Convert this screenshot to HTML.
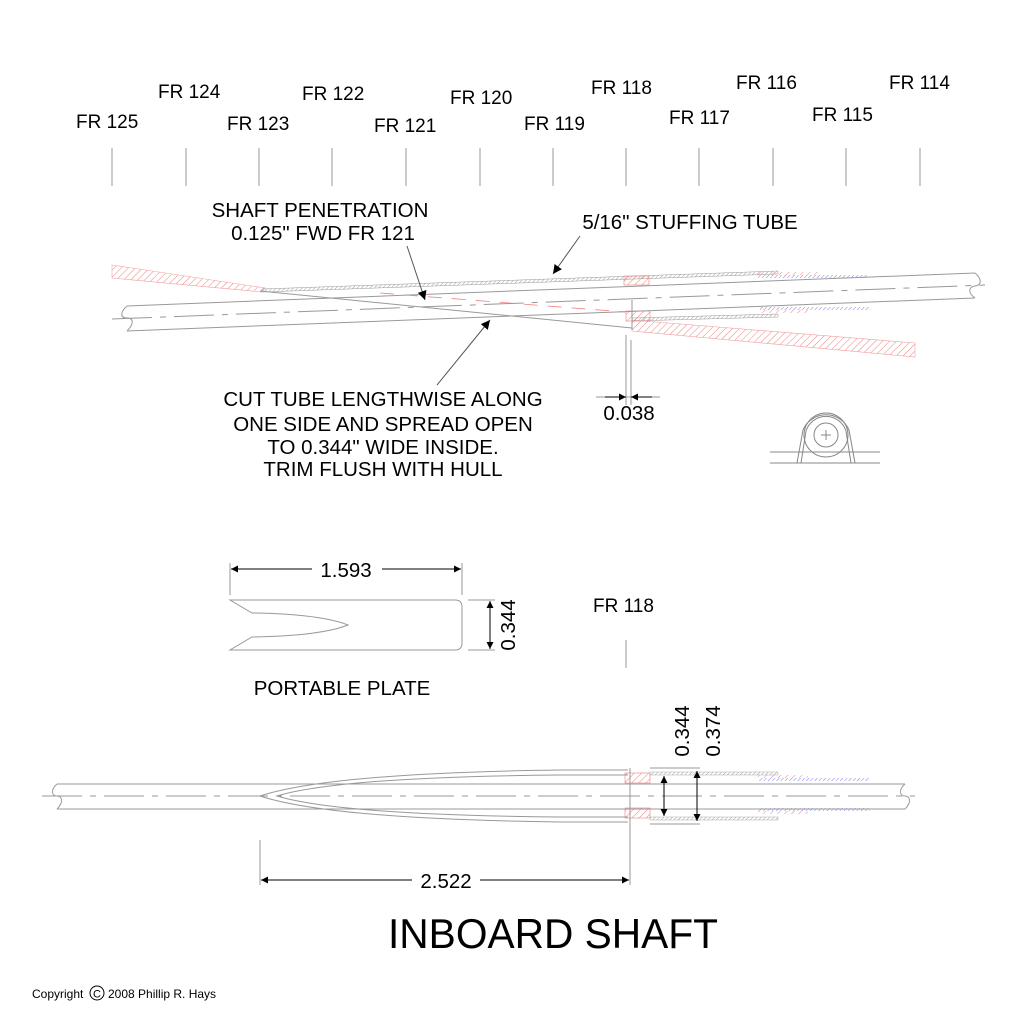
<!DOCTYPE html>
<html><head><meta charset="utf-8"><style>
html,body{margin:0;padding:0;background:#fff;}
svg{display:block;}
text{font-family:"Liberation Sans",sans-serif;fill:#000;}
</style></head><body>
<svg width="1024" height="1024" viewBox="0 0 1024 1024" xmlns="http://www.w3.org/2000/svg">
<defs>
<pattern id="hr" width="5" height="5" patternUnits="userSpaceOnUse" patternTransform="rotate(45)"><line x1="0" y1="0" x2="0" y2="5" stroke="#f08080" stroke-width="1"/></pattern>
<pattern id="hg" width="3" height="3" patternUnits="userSpaceOnUse" patternTransform="rotate(45)"><line x1="0" y1="0" x2="0" y2="3" stroke="#888" stroke-width="0.8"/></pattern>
<pattern id="hb" width="3" height="3" patternUnits="userSpaceOnUse" patternTransform="rotate(45)"><line x1="0" y1="0" x2="0" y2="3" stroke="#6060e0" stroke-width="0.8"/></pattern>
<marker id="ar" viewBox="0 0 10 10" refX="10" refY="5" markerWidth="15" markerHeight="7" markerUnits="userSpaceOnUse" orient="auto"><path d="M0,0 L10,5 L0,10 z" fill="#000"/></marker>
<marker id="ar2" viewBox="0 0 10 10" refX="10" refY="5" markerWidth="16" markerHeight="9" markerUnits="userSpaceOnUse" orient="auto"><path d="M0,0 L10,5 L0,10 z" fill="#000"/></marker>
</defs>

<g font-size="19">
<text x="76" y="128">FR 125</text>
<text x="158" y="98">FR 124</text>
<text x="227" y="130">FR 123</text>
<text x="302" y="100">FR 122</text>
<text x="374" y="132">FR 121</text>
<text x="450" y="104">FR 120</text>
<text x="524" y="130">FR 119</text>
<text x="591" y="94">FR 118</text>
<text x="669" y="124">FR 117</text>
<text x="736" y="89">FR 116</text>
<text x="812" y="121">FR 115</text>
<text x="889" y="89">FR 114</text>
</g>
<g stroke="#999" stroke-width="1">
<line x1="112" y1="148" x2="112" y2="186"/><line x1="186" y1="148" x2="186" y2="186"/>
<line x1="259" y1="148" x2="259" y2="186"/><line x1="332" y1="148" x2="332" y2="186"/>
<line x1="406" y1="148" x2="406" y2="186"/><line x1="480" y1="148" x2="480" y2="186"/>
<line x1="553" y1="148" x2="553" y2="186"/><line x1="626" y1="148" x2="626" y2="186"/>
<line x1="699" y1="148" x2="699" y2="186"/><line x1="773" y1="148" x2="773" y2="186"/>
<line x1="846" y1="148" x2="846" y2="186"/><line x1="920" y1="148" x2="920" y2="186"/>
</g>

<g font-size="20.5">
<text x="320" y="217" text-anchor="middle">SHAFT PENETRATION</text>
<text x="323" y="240" text-anchor="middle">0.125" FWD FR 121</text>
<text x="690" y="229" text-anchor="middle">5/16" STUFFING TUBE</text>
<text x="383" y="406" text-anchor="middle">CUT TUBE LENGTHWISE ALONG</text>
<text x="383" y="431" text-anchor="middle">ONE SIDE AND SPREAD OPEN</text>
<text x="383" y="454" text-anchor="middle">TO 0.344" WIDE INSIDE.</text>
<text x="383" y="476" text-anchor="middle">TRIM FLUSH WITH HULL</text>
</g>
<polygon points="112,265 265,288 262,292 112,278" fill="url(#hr)" stroke="#f3a0a0" stroke-width="0.6"/>
<polygon points="632,320 915,343 915,357 632,331" fill="url(#hr)" stroke="#f3a0a0" stroke-width="0.6"/>
<line x1="380" y1="293" x2="625" y2="312" stroke="#f08080" stroke-dasharray="14,10" stroke-width="0.8"/>
<polygon points="262,289 778,271 778,274 262,292" fill="url(#hg)" stroke="#999" stroke-width="0.5"/>
<polygon points="632,318 778,314 778,317 632,321" fill="url(#hg)" stroke="#999" stroke-width="0.5"/>
<rect x="624" y="276" width="25" height="9" fill="url(#hr)" stroke="#f08080" stroke-width="0.6"/>
<rect x="626" y="311" width="24" height="10" fill="url(#hr)" stroke="#f08080" stroke-width="0.6"/>
<rect x="758" y="272" width="60" height="3" fill="url(#hr)"/>
<rect x="758" y="275" width="110" height="3" fill="url(#hb)"/>
<rect x="760" y="307" width="110" height="3" fill="url(#hb)"/>
<rect x="760" y="310" width="50" height="3" fill="url(#hr)"/>
<g stroke="#999" stroke-width="1" fill="none">
<line x1="127" y1="306" x2="975" y2="273"/>
<line x1="127" y1="331" x2="975" y2="298"/>
<path d="M127,306 C120,312 120,318 127,318 C134,318 134,324 127,331"/>
<path d="M975,273 C982,279 982,285 975,286 C968,287 968,293 975,298"/>
<line x1="112" y1="319" x2="985" y2="285" stroke-dasharray="40,8,6,8"/>
<line x1="260" y1="291" x2="632" y2="328"/>
<line x1="632" y1="300" x2="632" y2="330"/>
<line x1="626" y1="335" x2="626" y2="405"/>
<line x1="631" y1="340" x2="631" y2="405"/>
<line x1="596" y1="397" x2="660" y2="397"/>
</g>
<line x1="605" y1="397" x2="626" y2="397" stroke="#000" marker-end="url(#ar)"/>
<line x1="652" y1="397" x2="631" y2="397" stroke="#000" marker-end="url(#ar)"/>
<text x="629" y="420" font-size="20.5" text-anchor="middle">0.038</text>
<line x1="407" y1="246" x2="425" y2="300" stroke="#555" marker-end="url(#ar2)"/>
<line x1="580" y1="236" x2="553" y2="274" stroke="#555" marker-end="url(#ar2)"/>
<line x1="437" y1="385" x2="490" y2="320" stroke="#555" marker-end="url(#ar2)"/>
<g stroke="#888" stroke-width="1" fill="none">
<line x1="770" y1="452" x2="880" y2="452"/>
<line x1="770" y1="463" x2="880" y2="463"/>
<circle cx="826" cy="435" r="12"/>
<circle cx="826" cy="435" r="22"/>
<path d="M797,463 L803,430 A25,25 0 0 1 849,430 L855,463"/>
<path d="M801,463 L806,431 A21,21 0 0 1 846,431 L851,463"/>
<line x1="821" y1="435" x2="831" y2="435"/><line x1="826" y1="430" x2="826" y2="440"/>
</g>

<g stroke="#999" stroke-width="1" fill="none">
<line x1="230" y1="563" x2="230" y2="595"/>
<line x1="462" y1="563" x2="462" y2="595"/>
<path d="M230,600 L455,600 Q462,600 462,607 L462,643 Q462,650 455,650 L230,650 L252,637 Q320,636 348,625 Q320,614 252,613 Z"/>
<line x1="468" y1="600" x2="495" y2="600"/>
<line x1="468" y1="650" x2="495" y2="650"/>
</g>
<line x1="312" y1="569" x2="231" y2="569" stroke="#000" marker-end="url(#ar)"/>
<line x1="382" y1="569" x2="461" y2="569" stroke="#000" marker-end="url(#ar)"/>
<text x="346" y="577" font-size="20.5" text-anchor="middle">1.593</text>
<line x1="490" y1="625" x2="490" y2="601" stroke="#000" marker-end="url(#ar)"/>
<line x1="490" y1="625" x2="490" y2="649" stroke="#000" marker-end="url(#ar)"/>
<text transform="translate(515,625) rotate(-90)" font-size="20.5" text-anchor="middle">0.344</text>
<text x="593" y="612" font-size="19">FR 118</text>
<line x1="626" y1="640" x2="626" y2="668" stroke="#999"/>
<text x="342" y="695" font-size="20.5" text-anchor="middle">PORTABLE PLATE</text>

<rect x="625" y="773" width="25" height="10" fill="url(#hr)" stroke="#f08080" stroke-width="0.6"/>
<rect x="625" y="808" width="25" height="10" fill="url(#hr)" stroke="#f08080" stroke-width="0.6"/>
<rect x="650" y="772" width="128" height="3" fill="url(#hg)" stroke="#999" stroke-width="0.4"/>
<rect x="650" y="817" width="128" height="3" fill="url(#hg)" stroke="#999" stroke-width="0.4"/>
<rect x="758" y="775" width="50" height="3" fill="url(#hr)"/>
<rect x="758" y="778" width="112" height="3" fill="url(#hb)"/>
<rect x="758" y="808" width="112" height="3" fill="url(#hb)"/>
<rect x="758" y="811" width="50" height="3" fill="url(#hr)"/>
<g stroke="#999" stroke-width="1" fill="none">
<line x1="57" y1="784" x2="905" y2="784"/>
<line x1="57" y1="809" x2="905" y2="809"/>
<path d="M57,784 C50,790 52,796 57,796 C62,796 64,802 57,809"/>
<path d="M905,784 C898,790 900,796 905,796 C910,796 912,802 905,809"/>
<line x1="42" y1="796" x2="915" y2="796" stroke-dasharray="40,8,6,8"/>
<path d="M628,770 L560,770 Q330,773 260,796 Q330,819 560,822 L628,822"/>
<path d="M628,775 L560,775 Q340,777 277,796 Q340,815 560,817 L628,817"/>
<line x1="630" y1="768" x2="630" y2="885"/>
<line x1="260" y1="840" x2="260" y2="885"/>
<line x1="650" y1="768" x2="700" y2="768"/>
<line x1="650" y1="824" x2="700" y2="824"/>
</g>
<line x1="664" y1="796" x2="664" y2="776" stroke="#000" marker-end="url(#ar)"/>
<line x1="664" y1="796" x2="664" y2="816" stroke="#000" marker-end="url(#ar)"/>
<line x1="697" y1="796" x2="697" y2="771" stroke="#000" marker-end="url(#ar)"/>
<line x1="697" y1="796" x2="697" y2="821" stroke="#000" marker-end="url(#ar)"/>
<text transform="translate(689,731) rotate(-90)" font-size="20.5" text-anchor="middle">0.344</text>
<text transform="translate(720,731) rotate(-90)" font-size="20.5" text-anchor="middle">0.374</text>
<line x1="412" y1="880" x2="261" y2="880" stroke="#000" marker-end="url(#ar)"/>
<line x1="480" y1="880" x2="629" y2="880" stroke="#000" marker-end="url(#ar)"/>
<text x="446" y="888" font-size="20.5" text-anchor="middle">2.522</text>

<text x="388" y="948" font-size="42" textLength="330" lengthAdjust="spacingAndGlyphs">INBOARD SHAFT</text>
<text x="32" y="998" font-size="12">Copyright</text>
<circle cx="97" cy="993" r="7" fill="none" stroke="#000" stroke-width="1"/>
<text x="97" y="997.5" font-size="11" text-anchor="middle">C</text>
<text x="108" y="998" font-size="12">2008 Phillip R. Hays</text>
</svg>
</body></html>
